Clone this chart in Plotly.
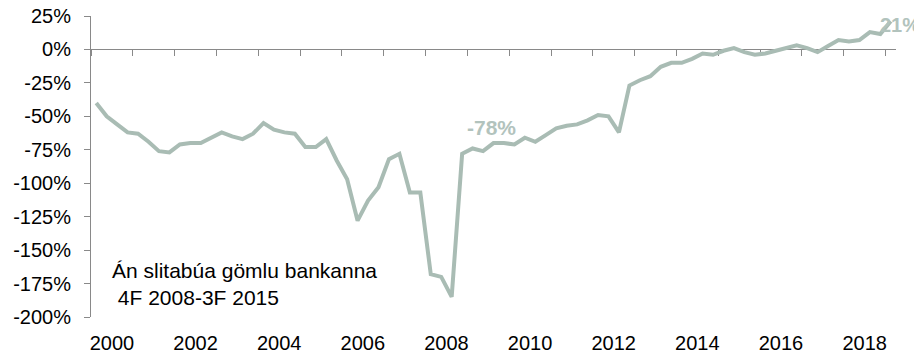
import plotly.graph_objects as go

# Quarterly series 2000Q1 .. 2019Q1 (index 0..76)
years = list(range(2000, 2020))
values = [
    -40, -50, -56, -62,
    -63, -69, -76, -77,
    -71, -70, -70, -66,
    -62, -65, -67, -63,
    -55, -60, -62, -63,
    -73, -73, -67, -83,
    -97, -128, -113, -103,
    -82, -78, -107, -107,
    -168, -170, -185, -78,
    -74, -76, -70, -70,
    -71, -66, -69, -64,
    -59, -57, -56, -53,
    -49, -50, -62, -27,
    -23, -20, -13, -10,
    -10, -7, -3, -4,
    -1, 1, -2, -4,
    -3, -1, 1, 3,
    1, -2, 2.5, 7,
    6, 7, 13, 11.5,
    21,
]
quarters = list(range(len(values)))

label_years = [2000, 2002, 2004, 2006, 2008, 2010, 2012, 2014, 2016, 2018]
y_ticks = [25, 0, -25, -50, -75, -100, -125, -150, -175, -200]
y_ticktext = [f"{v}%" for v in y_ticks]

note_text = "Án slitabúa gömlu bankanna<br>\u00a04F 2008-3F 2015"
low_label_index = 35  # 4F 2008
low_label_text = "-78%"
last_label_text = "21%"

LINE = "#a9bcb4"
LABEL = "#b2c3bd"
AXIS = "#898989"
FONT = "Liberation Sans, Arial, sans-serif"

xr = [-0.5, len(values) - 0.5]
# year-label positions: centre of each year's four quarters
label_pos = [(y - 2000) * 4 + 1.5 for y in label_years]
# tick marks at year boundaries
tick_pos = [(y - 2000) * 4 - 0.5 for y in years]

fig = go.Figure()
# dummy on bottom label axis
fig.add_trace(go.Scatter(x=quarters, y=values, mode="none", xaxis="x", yaxis="y",
                         hoverinfo="skip", showlegend=False))
# main line on the zero-line axis
fig.add_trace(go.Scatter(x=quarters, y=values, mode="lines", xaxis="x2", yaxis="y",
                         line=dict(color=LINE, width=4), showlegend=False,
                         cliponaxis=False))

# page body has an 8px margin, so the figure is 8px smaller and offset
fig.update_layout(
    width=914, height=345,
    margin=dict(l=83, r=26, t=8, b=36, autoexpand=False),
    paper_bgcolor="white", plot_bgcolor="white",
    font=dict(family=FONT, size=20, color="#000000"),
    xaxis=dict(range=xr, tickvals=label_pos, ticktext=[str(y) for y in label_years],
               ticks="", showline=False, showgrid=False, zeroline=False,
               ticklabelstandoff=12, ticklabeloverflow="allow",
               tickfont=dict(size=20, color="#000000")),
    xaxis2=dict(range=xr, overlaying="x", anchor="free", position=200 / 225,
                side="bottom", tickvals=tick_pos, showticklabels=False,
                ticks="outside", ticklen=6, tickcolor=AXIS, tickwidth=1,
                showline=True, linecolor=AXIS, linewidth=1,
                showgrid=False, zeroline=False, layer="below traces"),
    yaxis=dict(range=[-200, 25], tickvals=y_ticks, ticktext=y_ticktext,
               ticks="outside", ticklen=6, tickcolor=AXIS, showline=True,
               linecolor=AXIS, linewidth=1, showgrid=False, zeroline=False,
               ticklabelstandoff=9, ticklabeloverflow="allow",
               tickfont=dict(size=20, color="#000000")),
    annotations=[
        dict(x=1.3, y=-175.5, xref="x", yref="y", text=note_text, showarrow=False,
             xanchor="left", yanchor="middle", align="left",
             font=dict(family=FONT, size=21, color="#000000")),
        dict(x=low_label_index, y=values[low_label_index], xref="x2", yref="y",
             text=f"<b>{low_label_text}</b>", showarrow=False,
             xanchor="left", yanchor="middle", xshift=3, yshift=26,
             font=dict(family=FONT, size=21, color=LABEL)),
        dict(x=quarters[-1], y=values[-1], xref="x2", yref="y",
             text=f"<b>{last_label_text}</b>", showarrow=False,
             xanchor="left", yanchor="middle", xshift=-13, yshift=-4,
             font=dict(family=FONT, size=20, color=LABEL)),
    ],
)

fig.write_html("out.html")
